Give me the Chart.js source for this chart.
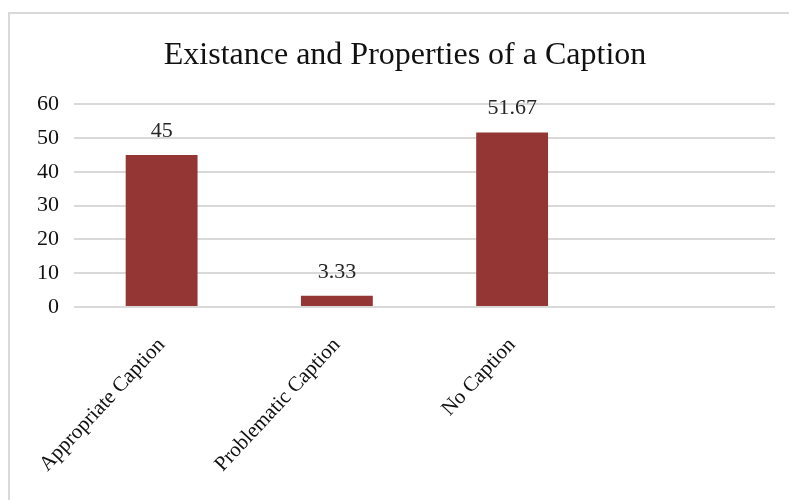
<!DOCTYPE html>
<html>
<head>
<meta charset="utf-8">
<script src="https://cdn.jsdelivr.net/npm/chart.js@4"></script>
<style>
  html, body { margin: 0; padding: 0; background: #fff; overflow: hidden; }
  #box {
    position: absolute; left: 8px; top: 12px;
    width: 792px; height: 488px;
    border-left: 2px solid #d9d9d9; border-top: 2px solid #d9d9d9;
    box-sizing: border-box;
  }
</style>
</head>
<body>
<div id="box"><canvas id="captionChart"></canvas></div>
<script>
// Datos del gráfico
const categories = ['Appropriate Caption', 'Problematic Caption', 'No Caption', ''];
const percentages = [45, 3.33, 51.67, null];
const yTicks = [0, 10, 20, 30, 40, 50, 60];

const serif = '"Liberation Serif", "Times New Roman", serif';

// Etiquetas de valor sobre las barras
const valueLabels = {
    id: 'valueLabels',
    afterDatasetsDraw(chart) {
        const ctx = chart.ctx;
        const meta = chart.getDatasetMeta(0);
        ctx.save();
        ctx.font = '22px ' + serif;
        ctx.fillStyle = '#262626';
        ctx.textAlign = 'center';
        ctx.textBaseline = 'bottom';
        meta.data.forEach((bar, i) => {
            const v = percentages[i];
            if (v === null) return;
            ctx.fillText(String(v), bar.x, bar.y - 13);
        });
        ctx.restore();
    }
};

const captionChart = new Chart(document.getElementById('captionChart'), {
    type: 'bar',
    data: {
        labels: categories,
        datasets: [{
            data: percentages,
            backgroundColor: '#943634',
            barPercentage: 0.82,
            categoryPercentage: 0.5
        }]
    },
    options: {
        responsive: true,
        maintainAspectRatio: false,
        animation: false,
        layout: { padding: 0 },
        plugins: {
            legend: { display: false },
            tooltip: { enabled: false },
            title: {
                display: true,
                text: 'Existance and Properties of a Caption',
                color: '#111',
                font: { family: serif, size: 32, weight: 'normal' },
                padding: { top: 22, bottom: 30 }
            }
        },
        scales: {
            x: {
                grid: { display: false },
                border: { display: false },
                ticks: {
                    color: '#111',
                    font: { family: serif, size: 21 },
                    minRotation: 47,
                    maxRotation: 47,
                    padding: 18
                },
                afterFit(scale) { scale.height = 193; }
            },
            y: {
                min: 0,
                max: 60,
                afterBuildTicks(scale) { scale.ticks = yTicks.map(v => ({ value: v })); },
                grid: { color: '#d9d9d9', lineWidth: 2, drawTicks: false },
                border: { display: false },
                ticks: {
                    color: '#111',
                    font: { family: serif, size: 22 },
                    padding: 15
                },
                afterFit(scale) { scale.width = 64; }
            },
            // espacio vacío a la derecha, el título queda centrado en todo el ancho
            spacer: {
                type: 'linear',
                position: 'right',
                grid: { display: false },
                border: { display: false },
                ticks: { display: false },
                afterFit(scale) { scale.width = 25; }
            }
        }
    },
    plugins: [valueLabels]
});
</script>
</body>
</html>
